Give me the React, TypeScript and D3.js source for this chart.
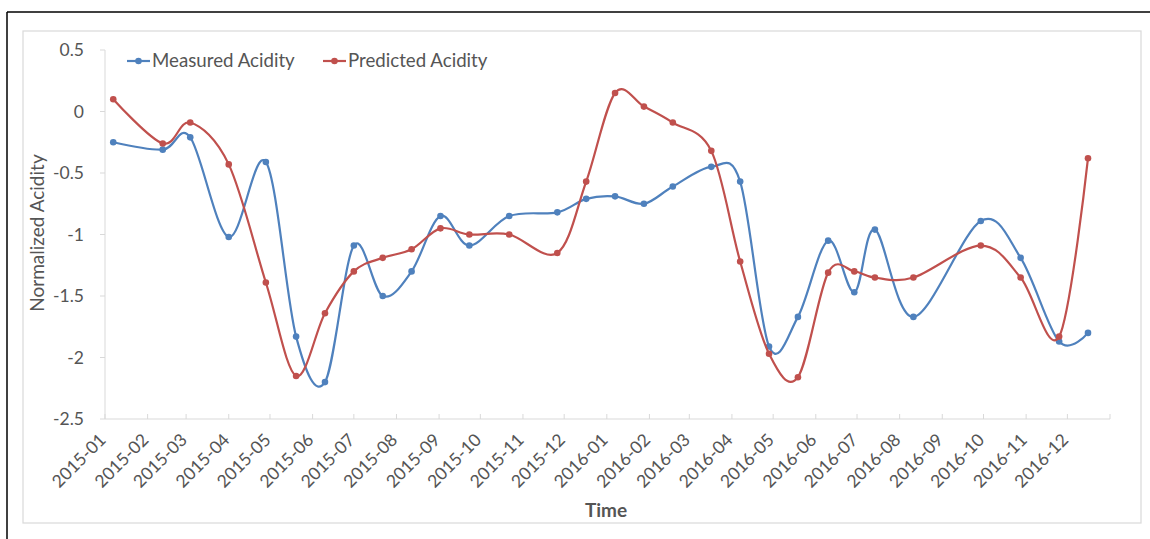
import React from "react";
import * as d3 from "d3";

const dates: string[] = [
  "2015-01-07", "2015-02-12", "2015-03-04", "2015-04-01", "2015-04-28", "2015-05-20",
  "2015-06-10", "2015-07-01", "2015-07-22", "2015-08-12", "2015-09-02", "2015-09-23",
  "2015-10-22", "2015-11-26", "2015-12-17", "2016-01-07", "2016-01-28", "2016-02-18",
  "2016-03-17", "2016-04-07", "2016-04-28", "2016-05-19", "2016-06-10", "2016-06-29",
  "2016-07-14", "2016-08-11", "2016-09-29", "2016-10-28", "2016-11-25", "2016-12-16",
];

const measured: number[] = [
  -0.25, -0.31, -0.21, -1.02, -0.41, -1.83, -2.2, -1.09, -1.5, -1.3, -0.85, -1.09,
  -0.85, -0.82, -0.71, -0.69, -0.75, -0.61, -0.45, -0.57, -1.91, -1.67, -1.05, -1.47,
  -0.96, -1.67, -0.89, -1.19, -1.87, -1.8,
];

const predicted: number[] = [
  0.1, -0.26, -0.09, -0.43, -1.39, -2.15, -1.64, -1.3, -1.19, -1.12, -0.95, -1.0,
  -1.0, -1.15, -0.57, 0.15, 0.04, -0.09, -0.32, -1.22, -1.97, -2.16, -1.31, -1.3,
  -1.35, -1.35, -1.09, -1.35, -1.83, -0.38,
];

const yTicks: number[] = [0.5, 0, -0.5, -1, -1.5, -2, -2.5];
const seriesNames: string[] = ["Measured Acidity", "Predicted Acidity"];
const seriesColors: string[] = ["#4F81BD", "#C0504D"];

const FONT = "Lato, 'Open Sans', sans-serif";

export default function App() {
  const parse = d3.utcParse("%Y-%m-%d");
  const xDates = dates.map((d) => parse(d) as Date);
  const start = new Date(Date.UTC(2015, 0, 1));
  const end = new Date(Date.UTC(2017, 0, 1));
  const x = d3.scaleUtc().domain([start, end]).range([105, 1110]);
  const y = d3.scaleLinear().domain([-2.5, 0.5]).range([419, 50]);
  const months = d3.utcMonth.range(start, end);
  const allTicks = [...months, end];
  const fmt = d3.utcFormat("%Y-%m");

  const line = d3
    .line<[Date, number]>()
    .x((d) => x(d[0]))
    .y((d) => y(d[1]))
    .curve(d3.curveCardinal.tension(0));

  const series = [measured, predicted].map((vals) =>
    vals.map((v, i) => [xDates[i], v] as [Date, number])
  );

  const legendX = [127, 323];

  return (
    <svg
      width={1150}
      height={539}
      style={{ position: "absolute", left: 0, top: 0, background: "#fff" }}
    >
      <rect x={0} y={0} width={1150} height={539} fill="#fff" />
      {/* outer black frame */}
      <line x1={7} y1={12} x2={1150} y2={12} stroke="#000" strokeWidth={1.5} />
      <line x1={7} y1={12} x2={7} y2={539} stroke="#000" strokeWidth={1.5} />
      {/* inner chart border */}
      <rect x={23} y={31} width={1118} height={492} fill="none" stroke="#d9d9d9" strokeWidth={1.2} />

      {/* axes */}
      <line x1={105} y1={50} x2={105} y2={419} stroke="#d9d9d9" strokeWidth={1} />
      <line x1={105} y1={419} x2={1110} y2={419} stroke="#d9d9d9" strokeWidth={1.2} />
      {yTicks.map((t) => (
        <g key={"y" + t}>
          <line x1={100} x2={105} y1={y(t)} y2={y(t)} stroke="#d9d9d9" />
          <text
            x={84}
            y={y(t) + 6}
            textAnchor="end"
            fontFamily={FONT}
            fontSize={17.5}
            fill="#555"
          >
            {t}
          </text>
        </g>
      ))}
      {allTicks.map((d, i) => (
        <line
          key={"xt" + i}
          x1={x(d)}
          x2={x(d)}
          y1={414}
          y2={419}
          stroke="#d9d9d9"
        />
      ))}
      {months.map((d, i) => (
        <text
          key={"xl" + i}
          transform={`translate(${x(d) + 2},${441}) rotate(-45)`}
          textAnchor="end"
          fontFamily={FONT}
          fontSize={17.5}
          fill="#555"
        >
          {fmt(d)}
        </text>
      ))}

      {/* axis titles */}
      <text
        transform={`translate(44,233) rotate(-90)`}
        textAnchor="middle"
        fontFamily={FONT}
        fontSize={19}
        fill="#555"
      >
        Normalized Acidity
      </text>
      <text
        x={606}
        y={517}
        textAnchor="middle"
        fontFamily={FONT}
        fontSize={19}
        fontWeight="bold"
        fill="#555"
      >
        Time
      </text>

      {/* series */}
      {series.map((s, si) => (
        <g key={"s" + si}>
          <path
            d={line(s) || ""}
            fill="none"
            stroke={seriesColors[si]}
            strokeWidth={2.2}
            strokeLinejoin="round"
          />
          {s.map((p, i) => (
            <circle
              key={i}
              cx={x(p[0])}
              cy={y(p[1])}
              r={3.3}
              fill={seriesColors[si]}
            />
          ))}
        </g>
      ))}

      {/* legend */}
      {seriesNames.map((n, i) => (
        <g key={"lg" + i}>
          <line
            x1={legendX[i]}
            x2={legendX[i] + 23}
            y1={61}
            y2={61}
            stroke={seriesColors[i]}
            strokeWidth={2.2}
          />
          <circle cx={legendX[i] + 11.5} cy={61} r={3.3} fill={seriesColors[i]} />
          <text
            x={legendX[i] + 25}
            y={67}
            fontFamily={FONT}
            fontSize={18.7}
            fill="#555"
          >
            {n}
          </text>
        </g>
      ))}
    </svg>
  );
}
